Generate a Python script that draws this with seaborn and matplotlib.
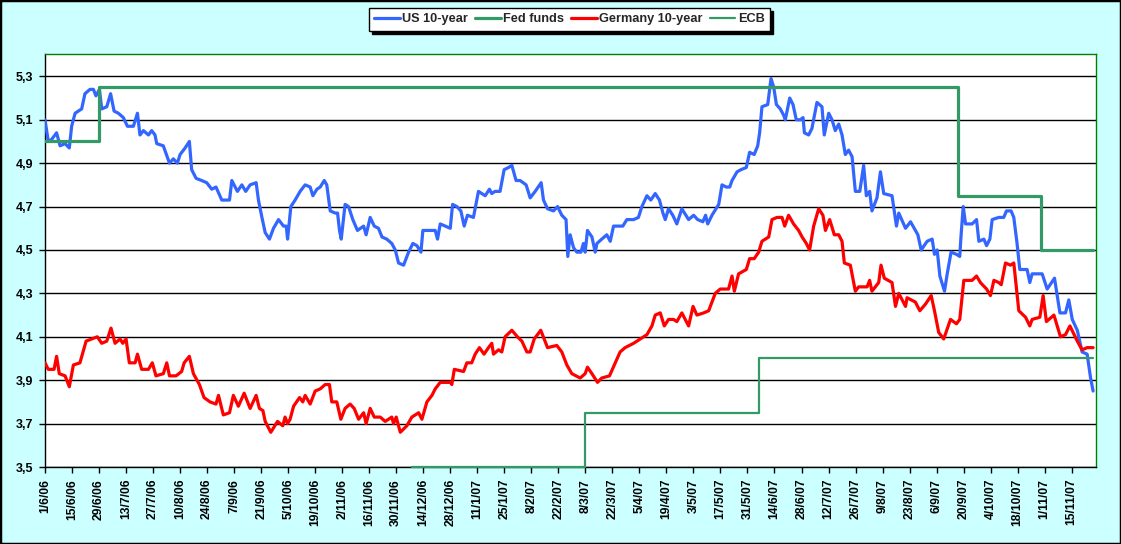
import numpy as np
import pandas as pd
import matplotlib
matplotlib.use("Agg")
import matplotlib.pyplot as plt
from matplotlib.patches import Rectangle
import seaborn as sns

# ---------------- data (day offsets from 1 June 2006, yields in %) ----------------
START = "2006-06-01"

us_days = [0.0, 1.7, 3.5, 6.0, 7.8, 10.4, 12.6, 13.8, 15.6, 19.0, 20.7, 23.3, 25.1, 26.4, 28.2, 29.4, 32.0, 34.0, 35.8, 38.0,
           40.6, 42.7, 45.8, 47.9, 49.2, 51.0, 53.6, 55.3, 57.0, 57.9, 61.3, 64.5, 66.5, 68.6, 70.0, 72.6, 74.8, 76.0, 78.3, 81.2,
           83.8, 86.4, 88.6, 91.6, 95.6, 96.8, 99.7, 102.0, 104.0, 106.3, 109.4,
           110.6, 112.4, 114.1, 116.3, 118.4, 121.0, 123.6, 125.0, 125.7, 127.4, 129.6, 132.2, 134.8, 137.4, 138.8, 140.9, 142.6, 144.7, 146.0, 147.8,
           150.4, 151.6, 152.6, 153.5, 155.5, 157.3, 159.5, 161.9, 165.1, 166.4, 168.5, 170.6, 172.8, 174.6, 177.1, 179.7, 181.5, 183.2, 185.8, 188.4,
           190.6, 192.7, 194.8, 195.8, 200.5, 202.2, 203.4, 204.8, 207.4, 210.0, 211.2, 213.4, 215.5, 217.2,
           218.9, 222.0, 224.6, 228.1, 230.3, 231.5, 233.2, 235.8, 237.9, 240.2, 241.9, 244.1, 246.2, 249.3, 251.4, 254.0, 257.1, 258.3, 260.4, 263.5,
           265.6, 267.8, 270.0, 270.9, 272.1, 273.9, 275.6, 277.7, 279.0, 279.9, 281.1, 283.4, 285.1, 286.0, 288.5, 291.1, 292.9, 294.6, 297.2, 299.4,
           301.5, 305.0, 307.5, 309.3, 311.9, 313.9, 316.2, 318.4, 320.2, 321.4, 323.1, 325.3, 327.4,
           330.0, 333.5, 336.1, 338.2, 340.9, 342.3, 343.4, 345.6, 349.1, 350.8, 353.0, 354.8, 356.0, 358.6, 360.6, 363.4, 365.1, 367.5, 369.3, 370.3,
           371.5, 374.5, 375.5, 376.2, 377.6, 379.0, 381.0, 382.8, 383.6, 385.9, 387.6, 389.3, 391.4, 392.8, 393.5, 395.7, 397.4, 400.0, 402.6, 403.8,
           406.1, 407.8, 409.5, 411.3, 413.0, 414.7, 416.4, 418.2, 419.9, 422.2, 424.2, 425.6, 427.3, 428.5, 431.1, 432.9, 434.6,
           438.9, 440.2, 441.2, 442.4, 445.9, 448.5, 451.0, 452.3, 454.0, 457.1, 459.7, 460.9, 462.3, 463.7, 466.1, 467.5, 469.5, 472.3, 474.0, 474.7,
           475.8, 477.0, 480.4, 482.7, 483.9, 486.5, 487.9, 489.6, 490.8, 494.2, 496.8, 498.2, 500.6, 502.0, 503.7, 505.1, 508.9, 510.3, 511.5, 516.7,
           519.3, 523.1, 525.9, 528.8, 530.5, 532.3, 534.9, 537.4, 540.0, 541.8, 543.1]
us_yield = [5.10, 5.00, 5.01, 5.04, 4.98, 4.99, 4.97, 5.07, 5.13, 5.15, 5.22, 5.24, 5.24, 5.21, 5.24, 5.15, 5.16, 5.22, 5.14, 5.13,
            5.11, 5.07, 5.07, 5.13, 5.03, 5.05, 5.03, 5.05, 5.03, 4.99, 4.98, 4.90, 4.92, 4.90, 4.94, 4.97, 5.00, 4.87, 4.83, 4.82,
            4.81, 4.78, 4.79, 4.73, 4.73, 4.82, 4.77, 4.80, 4.77, 4.80, 4.81,
            4.73, 4.65, 4.58, 4.55, 4.60, 4.64, 4.61, 4.61, 4.55, 4.70, 4.73, 4.77, 4.80, 4.79, 4.75, 4.78, 4.79, 4.82, 4.80, 4.68,
            4.67, 4.67, 4.59, 4.55, 4.71, 4.70, 4.64, 4.59, 4.61, 4.57, 4.65, 4.61, 4.60, 4.56, 4.55, 4.53, 4.50, 4.44, 4.43, 4.49,
            4.53, 4.52, 4.49, 4.59, 4.59, 4.59, 4.55, 4.62, 4.61, 4.60, 4.71, 4.70, 4.68, 4.61,
            4.66, 4.65, 4.77, 4.75, 4.78, 4.76, 4.77, 4.77, 4.87, 4.88, 4.89, 4.82, 4.82, 4.80, 4.74, 4.77, 4.81, 4.73, 4.69, 4.68,
            4.70, 4.66, 4.64, 4.47, 4.57, 4.51, 4.49, 4.49, 4.53, 4.49, 4.59, 4.56, 4.49, 4.53, 4.55, 4.57, 4.54, 4.61, 4.61, 4.61,
            4.64, 4.64, 4.65, 4.70, 4.75, 4.73, 4.76, 4.73, 4.67, 4.64, 4.69, 4.66, 4.62,
            4.69, 4.64, 4.66, 4.64, 4.63, 4.66, 4.62, 4.66, 4.71, 4.80, 4.79, 4.79, 4.82, 4.86, 4.87, 4.88, 4.95, 4.94, 4.98, 5.04,
            5.16, 5.17, 5.24, 5.29, 5.25, 5.17, 5.15, 5.12, 5.10, 5.20, 5.17, 5.10, 5.10, 5.11, 5.04, 5.03, 5.06, 5.18, 5.16, 5.03,
            5.13, 5.10, 5.05, 5.08, 5.03, 4.94, 4.96, 4.93, 4.77, 4.77, 4.89, 4.75, 4.77, 4.68, 4.74, 4.86, 4.76,
            4.75, 4.67, 4.61, 4.67, 4.60, 4.63, 4.59, 4.57, 4.50, 4.54, 4.55, 4.48, 4.50, 4.38, 4.31, 4.39, 4.49, 4.48, 4.47, 4.57,
            4.70, 4.62, 4.62, 4.64, 4.54, 4.55, 4.52, 4.55, 4.64, 4.65, 4.65, 4.68, 4.68, 4.65, 4.53, 4.41, 4.41, 4.35, 4.39, 4.39,
            4.32, 4.37, 4.21, 4.21, 4.27, 4.18, 4.13, 4.03, 4.02, 3.91, 3.85]

de_days = [0.0, 1.7, 4.7, 6.0, 7.4, 10.4, 12.6, 14.7, 18.1, 21.3, 24.2, 27.1, 29.4, 32.0, 34.2, 36.3, 38.9, 40.3, 42.0, 43.7,
           46.7, 47.9, 50.1, 53.6, 55.6, 57.5, 61.3, 63.1, 64.5, 67.9, 70.8, 72.1, 74.8, 76.9, 80.0, 82.4, 85.5, 88.6, 89.9, 92.4,
           95.6, 97.6, 100.2, 103.2, 106.3, 109.4,
           111.1, 112.9, 114.1, 117.0, 120.5, 123.2, 124.4, 125.7, 127.0, 128.8, 131.9, 133.6, 134.8, 137.4, 140.0, 142.6, 145.2, 147.4, 148.6, 151.2,
           153.3, 155.5, 158.1, 160.2, 162.5, 165.1, 166.4, 168.5, 170.6, 173.7, 176.3, 179.7, 180.6, 182.0, 184.1, 187.5, 190.1, 193.6, 195.3, 197.9,
           200.5, 202.2, 204.8, 210.0, 210.8, 212.1, 216.9, 218.6,
           221.1, 222.9, 225.1, 227.5, 229.8, 231.5, 232.4, 235.0, 236.7, 238.4, 241.9, 244.8, 247.1, 249.7, 251.4, 253.5, 256.9, 260.4, 265.2, 267.8,
           270.4, 273.0, 277.3, 279.9, 281.1, 283.4, 286.3, 288.5, 292.5, 295.5, 298.0, 300.6, 305.0, 308.4, 311.9, 314.5, 316.2, 318.8, 320.9, 323.1,
           325.7, 327.4,
           330.0, 333.5, 335.8, 337.8, 341.3, 343.9, 347.3, 349.9, 354.2, 356.0, 357.2, 359.4, 363.4, 365.1, 367.5, 369.8, 371.5, 375.0, 376.7, 379.3,
           381.9, 383.3, 385.3, 387.9, 390.5, 392.3, 394.5, 396.2, 398.3, 400.9, 403.1, 404.4, 406.6, 409.0, 411.3, 413.0, 414.2, 417.3, 419.9, 421.6,
           426.0, 427.3, 428.5, 432.0, 433.2, 434.9,
           438.9, 440.7, 442.4, 445.9, 446.7, 451.0, 453.3, 456.2, 459.2, 460.9, 463.1, 465.7, 469.2, 472.3, 474.0, 476.1, 480.4, 482.7, 484.7, 487.9,
           489.9, 491.7, 494.2, 495.5, 497.7, 500.3, 502.0, 504.6, 508.1, 510.3, 511.5, 515.5, 517.2, 518.9, 522.8, 526.2, 528.8, 531.1, 534.9, 537.4,
           540.0, 543.1]
de_yield = [3.98, 3.95, 3.95, 4.01, 3.93, 3.92, 3.87, 3.97, 3.98, 4.08, 4.09, 4.10, 4.07, 4.08, 4.14, 4.07, 4.09, 4.07, 4.09, 3.98,
            3.98, 4.02, 3.95, 3.95, 3.98, 3.92, 3.93, 3.98, 3.92, 3.92, 3.94, 3.98, 4.01, 3.93, 3.88, 3.82, 3.80, 3.79, 3.83, 3.74,
            3.75, 3.83, 3.78, 3.84, 3.77, 3.83,
            3.77, 3.76, 3.71, 3.66, 3.71, 3.69, 3.73, 3.70, 3.72, 3.78, 3.82, 3.80, 3.83, 3.79, 3.85, 3.86, 3.88, 3.88, 3.80, 3.80,
            3.72, 3.77, 3.79, 3.77, 3.72, 3.75, 3.70, 3.77, 3.73, 3.73, 3.71, 3.73, 3.70, 3.73, 3.66, 3.69, 3.73, 3.75, 3.72, 3.80,
            3.83, 3.86, 3.89, 3.89, 3.88, 3.95, 3.94, 3.98,
            3.98, 4.02, 4.05, 4.02, 4.05, 4.07, 4.02, 4.04, 4.03, 4.10, 4.13, 4.10, 4.08, 4.03, 4.03, 4.09, 4.13, 4.05, 4.06, 4.03,
            3.97, 3.93, 3.91, 3.93, 3.96, 3.93, 3.89, 3.91, 3.92, 3.98, 4.03, 4.05, 4.07, 4.09, 4.11, 4.15, 4.20, 4.21, 4.15, 4.18,
            4.18, 4.17,
            4.21, 4.15, 4.24, 4.20, 4.21, 4.22, 4.30, 4.32, 4.32, 4.38, 4.31, 4.39, 4.41, 4.46, 4.46, 4.49, 4.54, 4.56, 4.64, 4.65,
            4.65, 4.61, 4.66, 4.62, 4.59, 4.56, 4.53, 4.50, 4.61, 4.69, 4.66, 4.59, 4.64, 4.57, 4.57, 4.54, 4.44, 4.43, 4.31, 4.33,
            4.33, 4.36, 4.31, 4.35, 4.43, 4.37,
            4.35, 4.24, 4.30, 4.24, 4.28, 4.26, 4.22, 4.25, 4.29, 4.22, 4.12, 4.09, 4.18, 4.16, 4.18, 4.36, 4.36, 4.38, 4.35, 4.32,
            4.29, 4.36, 4.35, 4.34, 4.44, 4.43, 4.44, 4.22, 4.19, 4.15, 4.18, 4.19, 4.29, 4.17, 4.20, 4.10, 4.11, 4.15, 4.08, 4.04,
            4.05, 4.05]

fed_days = [0.0, 28.2, 472.9, 516.2, 543.1]
fed_rate = [5.00, 5.25, 4.75, 4.50, 4.50]

ecb_days = [190.0, 279.8, 369.8, 543.1]
ecb_rate = [3.50, 3.75, 4.00, 4.00]

series_names = ["US 10-year", "Fed funds", "Germany 10-year", "ECB"]
y_ticks = [3.5, 3.7, 3.9, 4.1, 4.3, 4.5, 4.7, 4.9, 5.1, 5.3]

# ---------------- styling ----------------
sns.set_theme(style="white")
plt.rcParams["font.family"] = ["Liberation Sans", "DejaVu Sans"]
plt.rcParams["font.weight"] = "bold"

BLUE = "#3366FF"
GREEN = "#339966"
RED = "#FF0000"

start = pd.Timestamp(START)


def to_dates(days):
    return start + pd.to_timedelta(np.asarray(days, dtype=float), unit="D")


fig = plt.figure(figsize=(11.21, 5.44), dpi=100, facecolor="#CCFFFF")
ax = fig.add_axes([45 / 1121, 77 / 544, 1051 / 1121, 413 / 544])
ax.set_facecolor("white")

sns.lineplot(x=to_dates(us_days), y=us_yield, ax=ax, estimator=None, sort=False,
             color=BLUE, lw=2.3, label=series_names[0], zorder=3)
sns.lineplot(x=to_dates(fed_days), y=fed_rate, ax=ax, estimator=None, sort=False,
             color=GREEN, lw=2.3, label=series_names[1], drawstyle="steps-post", zorder=3)
sns.lineplot(x=to_dates(de_days), y=de_yield, ax=ax, estimator=None, sort=False,
             color=RED, lw=2.3, label=series_names[2], zorder=3)
sns.lineplot(x=to_dates(ecb_days), y=ecb_rate, ax=ax, estimator=None, sort=False,
             color=GREEN, lw=1.6, label=series_names[3], drawstyle="steps-post", zorder=4,
             clip_on=False)

# axes limits
ax.set_xlim(start, start + pd.Timedelta(days=544.6))
ax.set_ylim(3.5, 5.403)

# y ticks with comma decimals
ax.set_yticks(y_ticks)
ax.set_yticklabels([f"{v:.1f}".replace(".", ",") for v in y_ticks], fontsize=9, fontweight="bold")

# x ticks every 14 days
xt = pd.date_range(START, "2007-11-15", freq="14D")
ax.set_xticks(xt)
ax.set_xticklabels([f"{d.day}/{d.month}/{d:%y}" for d in xt], rotation=90,
                   fontsize=8.7, fontweight="bold")

ax.tick_params(axis="both", direction="out", length=4, width=1, color="black",
               labelcolor="black", pad=4.5)
ax.tick_params(axis="x", bottom=True)
ax.tick_params(axis="y", left=True)

ax.grid(False)
ax.yaxis.grid(True, color="black", lw=1)
ax.set_axisbelow(True)

for side in ["left", "bottom"]:
    ax.spines[side].set_color("black")
    ax.spines[side].set_linewidth(1)
for side in ["top", "right"]:
    ax.spines[side].set_color("#008000")
    ax.spines[side].set_linewidth(1)

ax.set_xlabel("")
ax.set_ylabel("")

handles, labels = ax.get_legend_handles_labels()
leg = ax.legend(handles, labels, loc="upper center", ncol=4,
                bbox_to_anchor=(569.5 / 1121, 1 - 8 / 544), bbox_transform=fig.transFigure,
                frameon=True, fancybox=False, edgecolor="black", framealpha=1,
                shadow={"color": "black", "alpha": 1},
                fontsize=9.2, handlelength=2.0, handletextpad=0.2, columnspacing=0.55,
                borderpad=0.42, borderaxespad=0)
for t in leg.get_texts():
    t.set_fontweight("bold")
leg.get_frame().set_linewidth(1)

# figure border
fig.patches.append(Rectangle((0, 0), 1, 1, transform=fig.transFigure, fill=False,
                             edgecolor="black", lw=2.5))

fig.savefig("out.png", dpi=100, facecolor=fig.get_facecolor())
